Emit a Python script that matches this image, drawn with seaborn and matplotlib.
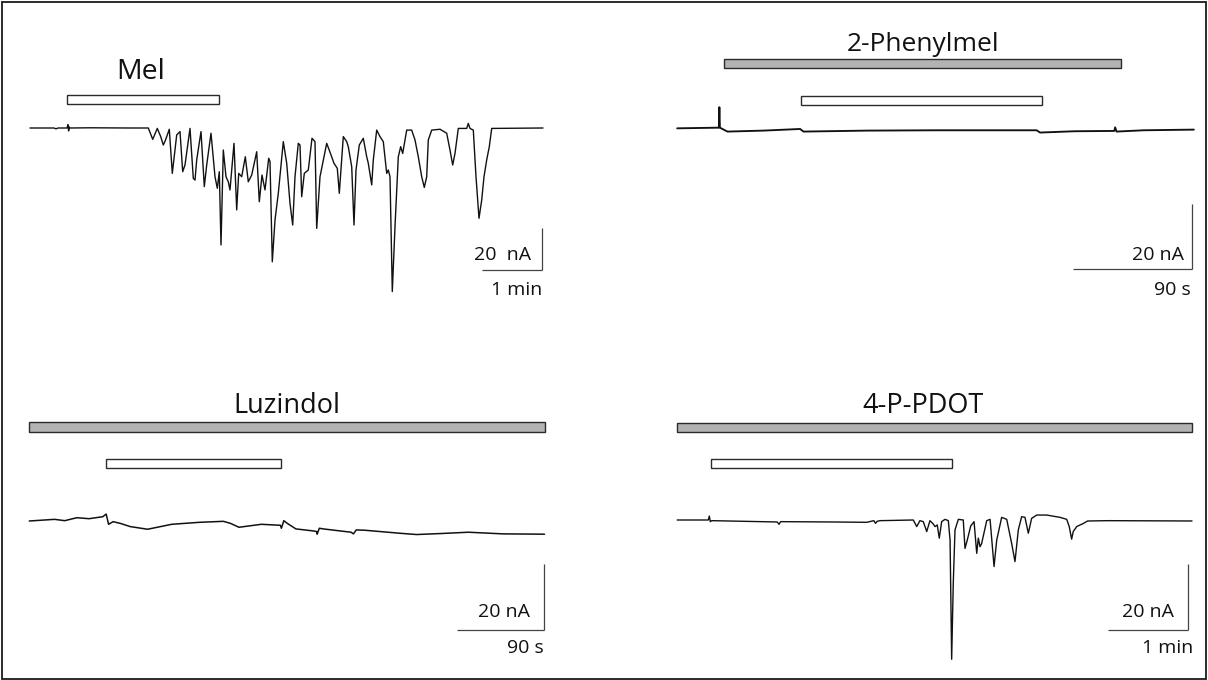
import matplotlib
matplotlib.use("Agg")
import matplotlib.pyplot as plt
from matplotlib.patches import Rectangle
import seaborn as sns
import pandas as pd

sns.set_theme(style="white")
plt.rcParams['font.family'] = ['Open Sans', 'DejaVu Sans']

# ---------------- data (time in s, current in nA) ----------------
mel_trace = [(0, 0), (24, 0), (26, -0.4), (28, 0), (37, 0), (38, 1.6), (38.6, -1.4), (39.3, 0.5), (40, 0),
             (60, 0.1), (100, 0), (118.3, 0), (122.7, -5.4), (127.3, -0.2), (130.7, -4.1), (133.3, -8.1),
             (135.3, -6.0), (139.3, -0.6), (142.3, -21.6), (146.7, -3.3), (150, -1.7), (152.7, -20.8),
             (155, -17.6), (160, -0.2), (163.3, -24), (165, -24.8), (166.7, -15.2), (171, -1.7),
             (174.3, -27.9), (176.7, -17.6), (181, -2.5), (185, -23.2), (187.3, -28.7), (189.3, -20.8),
             (191, -55.7), (193.3, -10.5), (196, -23.2), (198.3, -25.6), (200, -29.5), (204, -7.3),
             (206.7, -39), (208.7, -21.6), (211.7, -23.2), (215.3, -13.7), (218.3, -25.6), (221.7, -22.4),
             (226.7, -11.3), (229.3, -35.1), (232, -22.4), (235, -29.5), (238.7, -14.4), (240, -16),
             (242.3, -63.7), (245, -43.8), (248.3, -31.1), (253.3, -6.5), (256.7, -16.8), (260, -35.9),
             (262.7, -46.2), (265, -23.2), (268.3, -7.3), (270, -8.1), (271.7, -32.7), (274.3, -21.6),
             (278.3, -20), (282, -4.9), (285, -6.5), (286.7, -47.8), (290, -23.2), (296.7, -7.3),
             (300, -11.5), (304, -16.8), (307.3, -19.2), (309.3, -31.1), (313.3, -4.1), (316.7, -6.5),
             (318.3, -8.9), (321.7, -18.4), (324, -46.2), (326, -20), (329.3, -8.1), (333.3, -4.9),
             (336.7, -13.7), (338.3, -16.8), (341.7, -27.1), (343.3, -15.2), (346.7, -1.0), (350, -4.1),
             (353.3, -6.5), (356.7, -21.6), (358.3, -20), (360, -23.2), (362.3, -77.9), (365, -47),
             (368.3, -13.7), (370.7, -8.9), (372.7, -12.1), (376.7, -1.0), (381.7, -1.0), (385, -5.7),
             (388.3, -13.7), (391.7, -23.2), (394.3, -28.3), (396.7, -23.2), (398.3, -5.7), (401.7, -1.0),
             (410, -0.6), (416.7, -2.5), (420, -10.5), (422.7, -17.6), (425, -12.1), (428.3, -0.2),
             (436.7, -0.2), (438.3, 2.2), (440, -0.2), (443.3, -1.0), (446, -23.2), (449, -43),
             (451.7, -34.3), (454, -23.2), (456.7, -15.2), (459.3, -8.9), (461.7, -0.2), (513, 0)]

phe_trace = [(0, -0.1), (31.5, 0.1), (31.9, 6.4), (32.3, 0.1), (38, -1.1), (65.5, -0.8), (93, -0.3),
             (95.5, -1.1), (143.9, -0.8), (196, -0.7), (271.9, -0.7), (274.5, -1.4), (300.6, -1.0),
             (330.6, -0.9), (331.3, 0.2), (332.3, -1.1), (352.9, -0.7), (390.8, -0.5)]

luz_trace = [(0, 0), (26.1, 0.5), (36.7, 0.1), (49.2, 1.0), (61.8, 0.7), (76, 1.3), (79.5, 2.1), (82, -1.0),
             (86.7, -0.2), (93.8, -0.7), (104.5, -1.7), (122.3, -2.5), (147.3, -1.0), (175.8, -0.4),
             (200.7, -0.1), (207.9, -0.7), (216.8, -1.9), (240, -1.0), (259.6, -1.3), (260.7, -2.2),
             (263.2, 0.1), (266.7, -0.7), (275.7, -2.4), (293.5, -3.0), (297.1, -3.2), (297.7, -4.0),
             (299.9, -2.2), (304.1, -2.4), (332.7, -3.4), (335.2, -3.9), (338.1, -2.7), (347, -2.8),
             (382.6, -3.7), (400.5, -4.1), (425.4, -3.8), (454, -3.4), (489.6, -3.9), (532.8, -4.0)]

pdot_trace = [(0, 0), (23.3, 0), (24.1, 1.2), (24.8, -0.5), (25.9, -0.2), (75, -0.6), (76.4, -1.3),
              (77.6, -0.5), (116.4, -0.6), (142.3, -0.7), (147.5, -0.2), (148.8, -1.0), (150, -0.4),
              (152.1, -0.2), (177.1, 0), (179.7, -2.0), (182.1, -0.2), (184.6, -0.5), (187.2, -3.5),
              (189.6, -0.2), (192.1, -1.2), (193.4, -2.0), (195.1, -1.5), (196.6, -5.5), (198.4, -0.5),
              (200.9, 0.2), (203.4, -0.2), (204.7, -6.1), (205.9, -42.2), (207.1, -19.2), (208.4, -3.0),
              (210.9, 0.2), (214.6, 0), (215.9, -8.6), (217.6, -6.1), (220.2, -1.8), (222.7, -0.5),
              (224.7, -10.1), (225.9, -5.5), (227.2, -8.1), (228.4, -7.1), (232.2, -0.2), (234.7, 0.2),
              (237.7, -14.1), (239.7, -6.1), (243.4, 0.8), (247.2, 0.2), (250.9, -7.1), (253.4, -12.6),
              (255.9, -3.0), (258.4, 1.0), (260.9, 0.8), (263.4, -4.0), (265.9, 0.5), (269.7, 1.5),
              (277.2, 1.5), (287.2, 0.8), (292.2, 0.2), (294.1, -2.0), (295.9, -5.8), (297.1, -3.5),
              (299.7, -2.0), (302.2, -1.5), (304, -1.2), (307.9, -0.3), (323.4, -0.2), (386.2, -0.3)]

# drug application intervals (s): (start, end)
mel_white = (36.6, 189.0)
phe_gray, phe_white = (35.6, 335.6), (93.7, 276.3)
luz_gray, luz_white = (0.0, 533.0), (79.2, 260.7)
pdot_gray, pdot_white = (0.0, 386.2), (25.1, 206.4)

titles = ["Mel", "2-Phenylmel", "Luzindol", "4-P-PDOT"]
scale_current_nA = 20
time_labels = ["1 min", "90 s", "90 s", "1 min"]
time_scale_s = [60, 90, 90, 60]
current_labels = ["20  nA", "20 nA", "20 nA", "20 nA"]

# ---------------- layout ----------------
W, H = 1208, 680
fig = plt.figure(figsize=(W / 100, H / 100), dpi=100)

def make_ax(rect_px, x0, y0, pps, ppn):
    left, top, right, bottom = rect_px
    ax = fig.add_axes([left / W, 1 - bottom / H, (right - left) / W, (bottom - top) / H])
    ax.set_xlim((left - x0) / pps, (right - x0) / pps)
    ax.set_ylim((y0 - bottom) / ppn, (y0 - top) / ppn)
    ax.axis('off')
    return ax

panels = [
    dict(rect=(8, 8, 600, 340), x0=30.0, y0=128.0, pps=1.0, ppn=2.1, trace=mel_trace,
         gray=None, white=mel_white, gray_y=None, white_y=(11.3, 15.7),
         title_xy=(111, 23.2), title_fs=20.5, vbar_t=511.7, vbar_top=-47.8,
         cur_xy=(500.7, -62.9), time_xy=(512, -79.5), lw=1.0),
    dict(rect=(608, 8, 1200, 340), x0=677.2, y0=128.0, pps=1.322, ppn=3.25, trace=phe_trace,
         gray=phe_gray, white=phe_white, gray_y=(18.5, 21.2), white_y=(7.2, 9.9),
         title_xy=(186, 23.8), title_fs=19, vbar_t=389.4, vbar_top=-23.4,
         cur_xy=(383.5, -40.6), time_xy=(388.8, -51.4), lw=1.35),
    dict(rect=(8, 345, 600, 672), x0=29.3, y0=521.0, pps=0.967, ppn=3.3, trace=luz_trace,
         gray=luz_gray, white=luz_white, gray_y=(27.0, 30.0), white_y=(16.1, 18.8),
         title_xy=(266.5, 32.6), title_fs=19.5, vbar_t=532.3, vbar_top=-13.0,
         cur_xy=(517.8, -29.0), time_xy=(532.2, -40.1), lw=1.1),
    dict(rect=(608, 345, 1200, 672), x0=677.2, y0=520.0, pps=1.333, ppn=3.3, trace=pdot_trace,
         gray=pdot_gray, white=pdot_white, gray_y=(26.6, 29.5), white_y=(15.7, 18.4),
         title_xy=(184.1, 32.3), title_fs=19.5, vbar_t=382.9, vbar_top=-13.3,
         cur_xy=(372.5, -29.3), time_xy=(386.8, -40.4), lw=1.0),
]

bar_edge = "#2b2b2b"
for k, p in enumerate(panels):
    ax = make_ax(p["rect"], p["x0"], p["y0"], p["pps"], p["ppn"])
    df = pd.DataFrame(p["trace"], columns=["time_s", "current_nA"])
    sns.lineplot(data=df, x="time_s", y="current_nA", ax=ax, color="#111111",
                 lw=p["lw"], sort=False, estimator=None, solid_joinstyle='round')
    ax.set_xlabel(""); ax.set_ylabel("")
    if p["gray"] is not None:
        g0, g1 = p["gray"]; gy0, gy1 = p["gray_y"]
        ax.barh(y=gy0, width=g1 - g0, left=g0, height=gy1 - gy0, align='edge',
                color="#b3b3b3", edgecolor=bar_edge, linewidth=1.0)
    w0, w1 = p["white"]; wy0, wy1 = p["white_y"]
    ax.barh(y=wy0, width=w1 - w0, left=w0, height=wy1 - wy0, align='edge',
            color="white", edgecolor=bar_edge, linewidth=1.0)
    ax.text(p["title_xy"][0], p["title_xy"][1], titles[k], ha='center', va='baseline',
            fontsize=p["title_fs"], color="#111111")
    # scale bars
    vt, vtop = p["vbar_t"], p["vbar_top"]
    vbot = vtop - scale_current_nA
    ax.plot([vt, vt], [vtop, vbot], color="#444444", lw=0.9, solid_capstyle='butt')
    ax.plot([vt - time_scale_s[k], vt], [vbot, vbot], color="#444444", lw=0.9, solid_capstyle='butt')
    ax.text(p["cur_xy"][0], p["cur_xy"][1], current_labels[k], ha='right', va='baseline',
            fontsize=14, color="#111111")
    ax.text(p["time_xy"][0], p["time_xy"][1], time_labels[k], ha='right', va='baseline',
            fontsize=14, color="#111111")

fig.patches.append(Rectangle((1.5 / W, 1.5 / H), 1 - 3.5 / W, 1 - 3.5 / H, transform=fig.transFigure,
                             fill=False, edgecolor="#1a1a1a", linewidth=1.3))

fig.savefig("out.png", dpi=100, facecolor="white")
